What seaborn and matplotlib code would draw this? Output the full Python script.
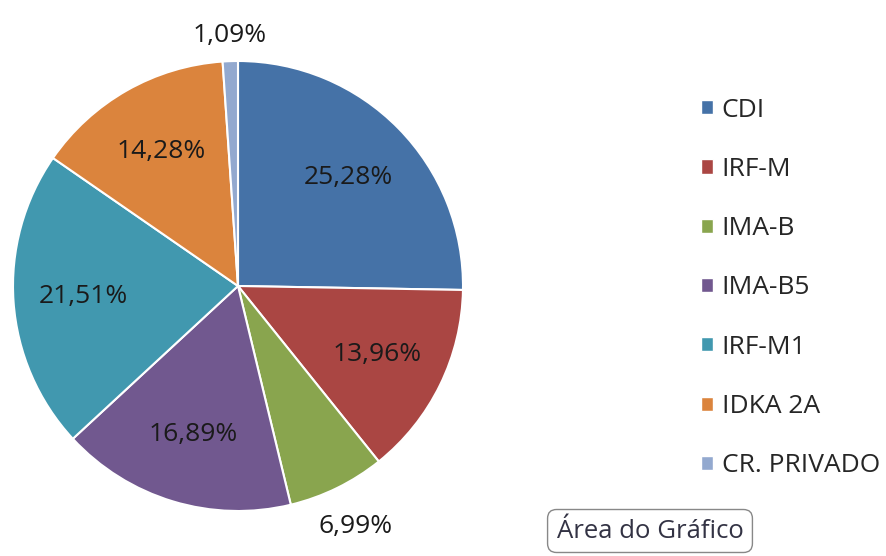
import matplotlib
matplotlib.use("Agg")
import matplotlib.pyplot as plt
import matplotlib.patches as mpatches
import seaborn as sns
import numpy as np

categories = ['CDI', 'IRF-M', 'IMA-B', 'IMA-B5', 'IRF-M1', 'IDKA 2A', 'CR. PRIVADO']
shares = [25.28, 13.96, 6.99, 16.89, 21.51, 14.28, 1.09]
colors = ['#4572A7', '#AA4643', '#89A54E', '#71588F', '#4198AF', '#DB843D', '#93A9CF']
outside = ['IMA-B', 'CR. PRIVADO']

sns.set_theme(style='white')
plt.rcParams['font.family'] = ['Open Sans', 'DejaVu Sans']

fig = plt.figure(figsize=(8.87, 5.56), dpi=100)
ax = fig.add_axes([13 / 887, 42 / 556, 450 / 887, 456 / 556])

def fmt(p):
    return f'{p:.2f}%'.replace('.', ',')

wedges, texts, autotexts = ax.pie(
    shares, colors=colors, startangle=90, counterclock=False,
    autopct=fmt, pctdistance=0.69, radius=1,
    wedgeprops=dict(edgecolor='white', linewidth=1.5),
    textprops=dict(fontsize=19, color='#1a1a1a'))

# push the small slices' labels out of the pie
dist = {'IMA-B': 1.19, 'CR. PRIVADO': 1.115}
for w, t, name in zip(wedges, autotexts, categories):
    if name in outside:
        ang = np.deg2rad((w.theta1 + w.theta2) / 2)
        t.set_position((dist[name] * np.cos(ang), dist[name] * np.sin(ang)))

ax.set_xlim(-1, 1)
ax.set_ylim(-1, 1)
ax.axis('off')

handles = [mpatches.Patch(facecolor=c, edgecolor='white', label=l) for c, l in zip(colors, categories)]
fig.legend(handles=handles, loc='center left', bbox_to_anchor=(677 / 887, 1 - 288 / 556),
           frameon=False, fontsize=19, labelspacing=1.3, handlelength=0.45, handleheight=0.45,
           handletextpad=0.35)

fig.text(650 / 887, 1 - 531 / 556, 'Área do Gráfico', fontsize=18.5, color='#333344',
         ha='center', va='center',
         bbox=dict(boxstyle='round,pad=0.35', facecolor='white', edgecolor='#888888'))

fig.savefig('out.png', dpi=100)
